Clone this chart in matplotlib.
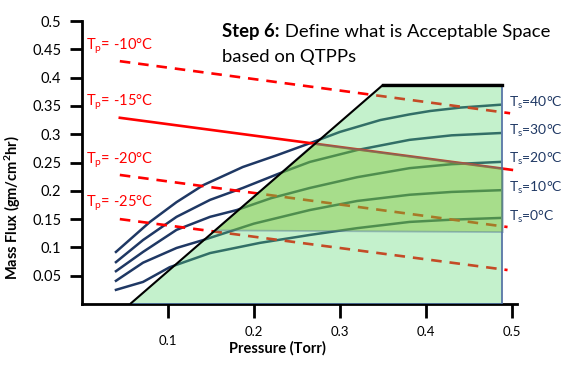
import numpy as np
import matplotlib
matplotlib.use('Agg')
import matplotlib.pyplot as plt
from matplotlib.patches import Polygon
from matplotlib.transforms import ScaledTranslation

plt.rcParams['font.family'] = ['Lato', 'DejaVu Sans']
plt.rcParams['mathtext.fontset'] = 'custom'
plt.rcParams['mathtext.rm'] = 'Lato'
plt.rcParams['mathtext.it'] = 'Lato:italic'
plt.rcParams['mathtext.bf'] = 'Lato:bold'

# shelf temperature curves (pressure in Torr, mass flux)
ts_labels = ['40', '30', '20', '10', '0']
p_ts40 = [0.0395, 0.079, 0.110, 0.141, 0.187, 0.227, 0.265, 0.300, 0.347, 0.381, 0.405, 0.440, 0.486]
flux_ts40 = [0.092, 0.145, 0.180, 0.210, 0.242, 0.263, 0.284, 0.304, 0.325, 0.335, 0.341, 0.347, 0.352]
p_ts30 = [0.0395, 0.071, 0.110, 0.149, 0.187, 0.230, 0.265, 0.320, 0.381, 0.430, 0.486]
flux_ts30 = [0.074, 0.113, 0.154, 0.184, 0.205, 0.231, 0.251, 0.272, 0.290, 0.298, 0.302]
p_ts20 = [0.0395, 0.071, 0.110, 0.149, 0.180, 0.220, 0.265, 0.320, 0.381, 0.430, 0.486]
flux_ts20 = [0.058, 0.092, 0.131, 0.154, 0.166, 0.187, 0.205, 0.224, 0.240, 0.247, 0.251]
p_ts10 = [0.0395, 0.071, 0.110, 0.141, 0.200, 0.265, 0.320, 0.381, 0.430, 0.486]
flux_ts10 = [0.041, 0.073, 0.099, 0.113, 0.142, 0.166, 0.182, 0.193, 0.198, 0.201]
p_ts0 = [0.0395, 0.071, 0.102, 0.149, 0.207, 0.265, 0.320, 0.381, 0.430, 0.486]
flux_ts0 = [0.025, 0.039, 0.065, 0.090, 0.108, 0.122, 0.134, 0.145, 0.149, 0.152]

# product temperature lines (start / end)
tp_labels = ['-10', '-15', '-20', '-25']
tp_p = [[0.044, 0.498], [0.044, 0.500], [0.044, 0.495], [0.044, 0.495]]
tp_flux = [[0.429, 0.337], [0.329, 0.237], [0.228, 0.136], [0.150, 0.060]]
tp_label_y = [0.456, 0.356, 0.254, 0.178]

# equipment capability region and acceptable space
equip_p = [0.056, 0.350, 0.488, 0.488]
equip_flux = [0.0, 0.387, 0.387, 0.0]
accept_p = [0.155, 0.270, 0.4895, 0.4895]
accept_flux = [0.130, 0.283, 0.239, 0.127]

navy = '#1F3864'
edge = '#4A6A9E'

fig = plt.figure(figsize=(5.67, 3.70), dpi=100)
ax = fig.add_axes([82/567, 66/370, 435/567, 283/370])

for p, fl in [(p_ts40, flux_ts40), (p_ts30, flux_ts30), (p_ts20, flux_ts20),
              (p_ts10, flux_ts10), (p_ts0, flux_ts0)]:
    ax.plot(p, fl, color=navy, lw=1.8, zorder=2, solid_joinstyle='round')

for i in range(4):
    ls = '-' if i == 1 else (0, (4, 3))
    ax.plot(tp_p[i], tp_flux[i], color='#FF0000', lw=1.9, ls=ls, zorder=2)
    ax.text(0.005, tp_label_y[i], r'T$_\mathrm{p}$= ' + tp_labels[i] + '°C',
            color='#FF0000', fontsize=10.5, va='center', ha='left')

equip = Polygon(list(zip(equip_p, equip_flux)), closed=True,
                facecolor='#58D86E', alpha=0.35, edgecolor='none', zorder=3)
ax.add_patch(equip)
ax.plot([equip_p[3], equip_p[3], equip_p[0]], [equip_flux[2], 0, 0],
        color=edge, lw=1.2, zorder=4)
ax.plot(equip_p[:3], equip_flux[:3], color='black', lw=1.5, zorder=5)
ax.plot(equip_p[1:3], equip_flux[1:3], color='black', lw=2.4, zorder=5)

accept = Polygon(list(zip(accept_p, accept_flux)), closed=True,
                 facecolor='#7CBF2A', alpha=0.4, edgecolor=edge, lw=1.3, zorder=4)
ax.add_patch(accept)

ts_y = [0.355, 0.305, 0.256, 0.205, 0.154]
for lab, y in zip(ts_labels, ts_y):
    ax.text(0.497, y, r'T$_\mathrm{s}$=' + lab + '°C', color=navy, fontsize=10,
            va='center', ha='left')

t1 = ax.text(0.163, 0.482, 'Step 6:', fontsize=13.3, fontweight='bold', va='center')
ax.annotate(' Define what is Acceptable Space', xy=(1, 0), xycoords=t1,
            fontsize=13.3, va='bottom')
ax.text(0.163, 0.436, 'based on QTPPs', fontsize=13.3, va='center')

ax.set_xlim(0, 0.506)
ax.set_ylim(0, 0.5)
ax.set_xticks([0.1, 0.2, 0.3, 0.4, 0.5])
ax.set_xticklabels(['0.1', '0.2', '0.3', '0.4', '0.5'])
ax.set_yticks([0.05, 0.1, 0.15, 0.2, 0.25, 0.3, 0.35, 0.4, 0.45, 0.5])
ax.set_yticklabels(['0.05', '0.1', '0.15', '0.2', '0.25', '0.3', '0.35', '0.4', '0.45', '0.5'])
ax.tick_params(axis='y', length=9, width=2, pad=6, labelsize=10.5)
ax.tick_params(axis='x', length=10, width=2, pad=6, labelsize=9.5)
# the 0.1 label sits a little lower in the original
lab01 = ax.get_xticklabels()[0]
lab01.set_transform(lab01.get_transform() + ScaledTranslation(0, -6/72, fig.dpi_scale_trans))
for s in ['top', 'right']:
    ax.spines[s].set_visible(False)
for s in ['left', 'bottom']:
    ax.spines[s].set_linewidth(2)

ax.set_xlabel('Pressure (Torr)', fontsize=10.5, fontweight='bold')
ax.xaxis.set_label_coords(0.45, -0.13)
ax.set_ylabel('Mass Flux (gm/cm$^\\mathbf{2}$hr)', fontsize=10.5, fontweight='bold')
ax.yaxis.set_label_coords(-0.135, 0.34)

fig.savefig('out.png', dpi=100)
